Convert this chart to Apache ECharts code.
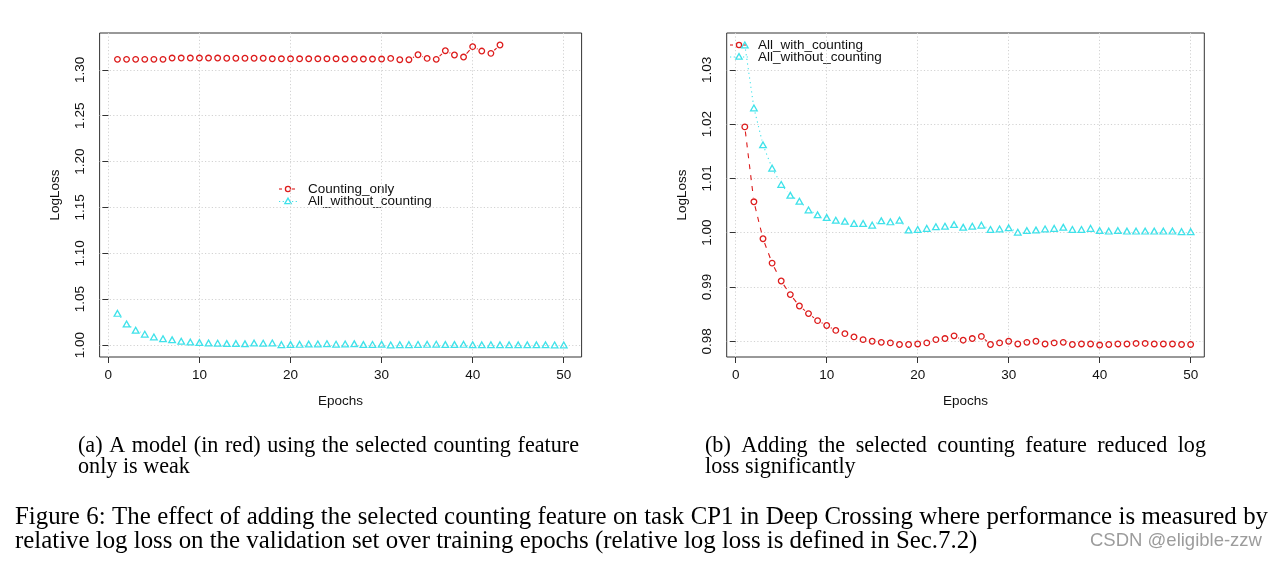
<!DOCTYPE html>
<html><head><meta charset="utf-8">
<script src="https://cdn.jsdelivr.net/npm/echarts@6/dist/echarts.min.js"></script>
<style>html,body{margin:0;padding:0;background:#fff}#c{width:1276px;height:561px}</style>
</head><body><div id="c"></div>
<script>
// ---------------- data ----------------
const epochs = Array.from({length: 50}, (_, i) => i + 1);
const epochsCountingOnly = epochs.slice(0, 43);
const countingOnly = [
  1.3115, 1.3115, 1.3115, 1.3115, 1.3115, 1.3115, 1.3129, 1.3129, 1.3129, 1.3129,
  1.3129, 1.3129, 1.3127, 1.3127, 1.3127, 1.3127, 1.3127, 1.3121, 1.3121, 1.3121,
  1.3121, 1.3121, 1.3121, 1.3121, 1.3121, 1.3118, 1.3118, 1.3118, 1.3118, 1.3118,
  1.3125, 1.3111, 1.3111, 1.3165, 1.3125, 1.3115, 1.3209, 1.3162, 1.3140, 1.3253,
  1.3205, 1.3180, 1.3271
];
const allWithoutCounting = [
  1.0346, 1.0230, 1.0162, 1.0119, 1.0089, 1.0069, 1.0058, 1.0042, 1.0033, 1.0028,
  1.0023, 1.0021, 1.0017, 1.0017, 1.0014, 1.0022, 1.0020, 1.0023, 1.0005, 1.0006,
  1.0008, 1.0011, 1.0012, 1.0015, 1.0010, 1.0012, 1.0014, 1.0006, 1.0007, 1.0009,
  1.0001, 1.0004, 1.0005, 1.0007, 1.0008, 1.0010, 1.0006, 1.0006, 1.0008, 1.0004,
  1.0003, 1.0004, 1.0003, 1.0003, 1.0003, 1.0003, 1.0003, 1.0003, 1.0002, 1.0002
];
const allWithCounting = [
  1.0195, 1.0057, 0.9989, 0.9944, 0.9911, 0.9886, 0.9865, 0.9851, 0.9838, 0.9829,
  0.9820, 0.9814, 0.9808, 0.9803, 0.9800, 0.9798, 0.9797, 0.9794, 0.9794, 0.9795,
  0.9797, 0.9803, 0.9805, 0.9810, 0.9802, 0.9805, 0.9809, 0.9794, 0.9797, 0.9800,
  0.9795, 0.9798, 0.9800, 0.9795, 0.9797, 0.9798, 0.9794, 0.9795, 0.9795, 0.9793,
  0.9794, 0.9795, 0.9795, 0.9796, 0.9796, 0.9795, 0.9795, 0.9795, 0.9794, 0.9794
];
const xTicks = [0, 10, 20, 30, 40, 50];
const yTicksLeft = [1.00, 1.05, 1.10, 1.15, 1.20, 1.25, 1.30];
const yTicksRight = [0.98, 0.99, 1.00, 1.01, 1.02, 1.03];
const legendLeft = ['Counting_only', 'All_without_counting'];
const legendRight = ['All_with_counting', 'All_without_counting'];
const captionA = ['(a) A model (in red) using the selected counting feature', 'only is weak'];
const captionB = ['(b) Adding the selected counting feature reduced log', 'loss significantly'];
const figCaption = [
  'Figure 6: The effect of adding the selected counting feature on task CP1 in Deep Crossing where performance is measured by',
  'relative log loss on the validation set over training epochs (relative log loss is defined in Sec.7.2)'
];
const watermark = 'CSDN @eligible-zzw';

// ---------------- styling ----------------
const RED = '#dd1c1c', CYAN = '#3fe2ea', TXT = '#111';
const SANS = '"Liberation Sans", Arial, Helvetica, sans-serif';
const SERIF = '"Liberation Serif", "Times New Roman", serif';
const FS = 13.5;

const mctx = document.createElement('canvas').getContext('2d');
function measure(text, family, size) {
  mctx.font = size + 'px ' + family;
  return mctx.measureText(text).width;
}
function fitSize(text, family, target) { return 20 * target / measure(text, family, 20); }

function pairs(xs, ys) { return ys.map((y, i) => [xs[i], y]); }
function segs(xs, ys) {
  const out = [];
  for (let i = 1; i < ys.length; i++) out.push([xs[i - 1], ys[i - 1], xs[i], ys[i]]);
  return out;
}
function gapLine(color, dash, gap) {
  return function (params, api) {
    const p0 = api.coord([api.value(0), api.value(1)]);
    const p1 = api.coord([api.value(2), api.value(3)]);
    const dx = p1[0] - p0[0], dy = p1[1] - p0[1], d = Math.hypot(dx, dy);
    if (d <= 2 * gap + 0.6) return null;
    const ux = dx / d, uy = dy / d;
    return {
      type: 'line', silent: true,
      shape: { x1: p0[0] + ux * gap, y1: p0[1] + uy * gap, x2: p1[0] - ux * gap, y2: p1[1] - uy * gap },
      style: { stroke: color, lineWidth: 1.1, lineDash: dash, fill: null }
    };
  };
}
function lineSeries(gi, xs, ys, color, dash) {
  return {
    type: 'custom', xAxisIndex: gi, yAxisIndex: gi, silent: true, z: 2,
    renderItem: gapLine(color, dash, 4.6),
    encode: { x: [0, 2], y: [1, 3] },
    data: segs(xs, ys)
  };
}
function pointSeries(gi, xs, ys, color, symbol, size) {
  return {
    type: 'scatter', xAxisIndex: gi, yAxisIndex: gi, silent: true, z: 3,
    symbol: symbol, symbolSize: size,
    itemStyle: { color: 'rgba(0,0,0,0)', borderColor: color, borderWidth: 1.3, opacity: 1 },
    data: pairs(xs, ys)
  };
}
const splitStyle = { show: true, lineStyle: { color: '#d2d2d2', type: [1.2, 2.2], width: 1 } };
function xAx(gi, min, max) {
  return {
    type: 'value', gridIndex: gi, min: min, max: max,
    name: 'Epochs', nameLocation: 'middle', nameGap: 37,
    nameTextStyle: { fontFamily: SANS, fontSize: FS, color: TXT },
    axisLine: { show: false },
    axisTick: { show: true, inside: false, length: 6, lineStyle: { color: '#333', width: 1 }, customValues: xTicks },
    axisLabel: { customValues: xTicks, margin: 11, fontFamily: SANS, fontSize: FS, color: TXT },
    splitLine: splitStyle
  };
}
function yAx(gi, min, max, ticks) {
  return {
    type: 'value', gridIndex: gi, min: min, max: max,
    name: 'LogLoss', nameLocation: 'middle', nameGap: 37, nameRotate: 90,
    nameTextStyle: { fontFamily: SANS, fontSize: FS, color: TXT },
    axisLine: { show: false },
    axisTick: { show: true, inside: false, length: 6, lineStyle: { color: '#333', width: 1 }, customValues: ticks },
    axisLabel: { customValues: ticks, rotate: 90, margin: 12, fontFamily: SANS, fontSize: FS, color: TXT,
      formatter: v => Number(v).toFixed(2) },
    splitLine: splitStyle
  };
}

// legend graphics (R-style "-o-" keys)
function legendKey(cx, cy, color, dash, marker) {
  const els = [
    { type: 'line', shape: { x1: cx - 9, y1: cy, x2: cx - 4, y2: cy }, style: { stroke: color, lineWidth: 1.1, lineDash: dash } },
    { type: 'line', shape: { x1: cx + 4, y1: cy, x2: cx + 9, y2: cy }, style: { stroke: color, lineWidth: 1.1, lineDash: dash } }
  ];
  if (marker === 'circle') {
    els.push({ type: 'circle', shape: { cx: cx, cy: cy, r: 2.6 }, style: { fill: null, stroke: color, lineWidth: 1.3 } });
  } else {
    els.push({ type: 'polygon', shape: { points: [[cx, cy - 3.4], [cx + 3.2, cy + 2.2], [cx - 3.2, cy + 2.2]] },
      style: { fill: null, stroke: color, lineWidth: 1.3 } });
  }
  return els;
}
function legendText(x, y, t) {
  return { type: 'text', x: x, y: y, style: { text: t, fontFamily: SANS, fontSize: FS, fill: TXT, align: 'left', verticalAlign: 'middle' } };
}
function textEl(x, y, t, family, size, fill) {
  return { type: 'text', x: x, y: y, style: { text: t, fontFamily: family, fontSize: size, fill: fill || '#000', align: 'left', verticalAlign: 'middle' } };
}
// justified line: words spread over the full width, like the LaTeX paragraph
function justified(x, y, t, width, family, size) {
  const words = t.split(' ');
  const ws = words.map(w => measure(w, family, size));
  const total = ws.reduce((a, b) => a + b, 0);
  const gap = (width - total) / (words.length - 1);
  const out = [];
  let cx = x;
  words.forEach((w, i) => { out.push(textEl(cx, y, w, family, size)); cx += ws[i] + gap; });
  return out;
}

const subSize = (fitSize(captionA[1], SERIF, 113) + fitSize(captionB[1], SERIF, 149.4)) / 2;
const figSize = fitSize(figCaption[1], SERIF, 963);
const wmSize = fitSize(watermark, SANS, 172);

const graphics = []
  .concat(legendKey(288, 189, RED, [3, 2], 'circle'))
  .concat(legendKey(288, 201.5, CYAN, [1.2, 2.5], 'triangle'))
  .concat([legendText(308, 189, legendLeft[0]), legendText(308, 201.5, legendLeft[1])])
  .concat(legendKey(739, 45, RED, [3, 2], 'circle'))
  .concat(legendKey(739, 57, CYAN, [1.2, 2.5], 'triangle'))
  .concat([legendText(758, 45, legendRight[0]), legendText(758, 57, legendRight[1])])
  .concat(justified(78, 446, captionA[0], 501, SERIF, subSize))
  .concat([textEl(78, 467, captionA[1], SERIF, subSize)])
  .concat(justified(705, 446, captionB[0], 501, SERIF, subSize))
  .concat([textEl(705, 467, captionB[1], SERIF, subSize)])
  .concat(justified(15, 517, figCaption[0], 1253, SERIF, figSize))
  .concat([textEl(15, 541, figCaption[1], SERIF, figSize)])
  .concat([textEl(1090, 541, watermark, SANS, wmSize, '#9c9c9c')]);

const chart = echarts.init(document.getElementById('c'));
chart.setOption({
  animation: false,
  backgroundColor: '#fff',
  grid: [
    { left: 99.6, top: 33, width: 482, height: 324, show: true, borderColor: '#333', borderWidth: 1, backgroundColor: 'transparent' },
    { left: 726.7, top: 33, width: 477.6, height: 324, show: true, borderColor: '#333', borderWidth: 1, backgroundColor: 'transparent' }
  ],
  xAxis: [xAx(0, -0.96, 51.96), xAx(1, -0.99, 51.5)],
  yAxis: [yAx(0, 0.9870, 1.3402, yTicksLeft), yAx(1, 0.9771, 1.0368, yTicksRight)],
  series: [
    lineSeries(0, epochsCountingOnly, countingOnly, RED, [5, 6]),
    lineSeries(0, epochs, allWithoutCounting, CYAN, [1.2, 3.5]),
    pointSeries(0, epochsCountingOnly, countingOnly, RED, 'circle', 5.6),
    pointSeries(0, epochs, allWithoutCounting, CYAN, 'triangle', [6.6, 5.8]),
    lineSeries(1, epochs, allWithCounting, RED, [5, 6]),
    lineSeries(1, epochs, allWithoutCounting, CYAN, [1.2, 3.5]),
    pointSeries(1, epochs, allWithCounting, RED, 'circle', 5.6),
    pointSeries(1, epochs, allWithoutCounting, CYAN, 'triangle', [6.6, 5.8])
  ],
  graphic: graphics
});
</script>
</body></html>
